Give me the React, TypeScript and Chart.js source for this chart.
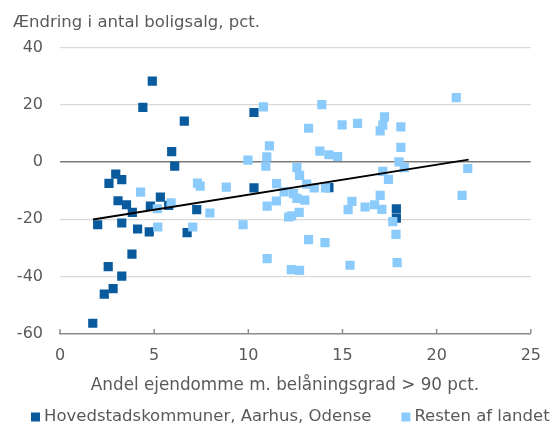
import React, { useEffect, useRef } from "react";
import { Chart, registerables } from "chart.js";

Chart.register(...registerables);

const titleText = "Ændring i antal boligsalg, pct.";
const xTitleText = "Andel ejendomme m. belåningsgrad > 90 pct.";
const seriesNames = ["Hovedstadskommuner, Aarhus, Odense", "Resten af landet"];
const seriesColors = ["#0a5b9d", "#8acbfc"];

const capitalX = [4.9, 4.4, 6.6, 10.3, 5.93, 6.09, 2.96, 2.6, 3.28, 3.08, 3.53, 3.84, 5.33, 4.8, 5.77, 7.26, 2.0, 3.28, 4.12, 4.74, 6.75, 3.82, 2.56, 3.28, 2.82, 2.35, 1.74, 10.3, 14.28, 17.86, 17.86];
const capitalY = [28.4, 19.2, 14.4, 17.4, 3.7, -1.4, -4.2, -7.4, -6.1, -13.5, -14.9, -17.6, -12.2, -15.4, -15.1, -16.6, -21.9, -21.3, -23.4, -24.4, -24.7, -32.2, -36.6, -39.9, -44.3, -46.2, -56.4, -9.0, -8.9, -16.3, -19.6];

const restX = [10.8, 13.9, 13.2, 14.98, 15.8, 11.12, 13.8, 14.28, 14.74, 9.98, 10.98, 10.93, 12.58, 12.72, 7.3, 7.44, 8.83, 11.5, 13.1, 13.5, 14.1, 11.9, 12.4, 11.49, 13.0, 15.5, 4.28, 5.9, 5.17, 5.19, 7.05, 7.96, 11.0, 12.58, 12.14, 12.3, 12.7, 9.72, 13.2, 14.07, 11.0, 12.28, 12.72, 15.4, 15.3, 16.2, 16.7, 17.09, 21.04, 17.23, 17.14, 17.0, 18.1, 18.1, 18.0, 18.28, 17.14, 17.44, 17.0, 21.65, 21.35, 17.84, 17.9, 17.67];
const restY = [19.4, 20.2, 11.9, 13.1, 13.6, 5.7, 3.9, 2.6, 2.0, 0.7, 1.9, -1.4, -1.9, -4.6, -7.3, -8.4, -8.7, -7.5, -7.7, -9.0, -9.0, -10.4, -11.0, -13.6, -13.3, -13.7, -10.5, -14.2, -16.3, -22.7, -22.7, -17.8, -15.4, -12.7, -19.2, -18.8, -17.6, -21.9, -27.1, -28.2, -33.8, -37.6, -37.9, -36.1, -16.6, -15.7, -14.9, -16.5, 22.6, 15.9, 13.0, 11.0, 12.4, 5.2, 0.1, -1.9, -3.2, -6.0, -11.6, -2.2, -11.6, -25.3, -35.2, -20.8];

const trendX = [1.75, 21.7];
const trendY = [-20.1, 0.9];

const xTicks = { min: 0, max: 25, step: 5 };
const yTicks = { min: -60, max: 40, step: 20 };

const FONT = "'DejaVu Sans', sans-serif";
const TEXT = "#595959";

const zip = (xs: number[], ys: number[]) => xs.map((x, i) => ({ x, y: ys[i] }));

const decorPlugin = {
  id: "decor",
  afterDraw(chart: any) {
    const { ctx, chartArea } = chart;
    const xs = chart.scales.x;
    ctx.save();
    // inward tick marks on x axis
    ctx.strokeStyle = "#8c8c8c";
    ctx.lineWidth = 1.5;
    xs.ticks.forEach((t: any) => {
      const px = xs.getPixelForValue(t.value);
      ctx.beginPath();
      ctx.moveTo(px, chartArea.bottom - 4.5);
      ctx.lineTo(px, chartArea.bottom);
      ctx.stroke();
    });
    // title
    ctx.fillStyle = TEXT;
    ctx.textBaseline = "alphabetic";
    ctx.textAlign = "left";
    ctx.font = `16.5px ${FONT}`;
    ctx.fillText(titleText, 13, 27);
    // x title
    ctx.font = `16.8px ${FONT}`;
    ctx.textAlign = "center";
    ctx.fillText(xTitleText, 285, 390);
    // legend
    ctx.font = `16.5px ${FONT}`;
    ctx.textAlign = "left";
    ctx.textBaseline = "middle";
    const ly = 417;
    let lx = 31;
    const box = 9;
    chart.data.datasets.forEach((ds: any) => {
      if (!ds.inLegend) return;
      ctx.fillStyle = ds.backgroundColor;
      ctx.fillRect(lx, ly - box / 2, box, box);
      ctx.fillStyle = TEXT;
      const tx = lx + box + 4;
      ctx.fillText(ds.label, tx, ly);
      lx = tx + ctx.measureText(ds.label).width + 30;
    });
    ctx.restore();
  },
};

export default function App() {
  const ref = useRef<HTMLCanvasElement>(null);
  useEffect(() => {
    if (!ref.current) return;
    const chart = new Chart(ref.current, {
      type: "scatter",
      data: {
        datasets: [
          {
            label: seriesNames[0],
            data: zip(capitalX, capitalY),
            backgroundColor: seriesColors[0],
            borderWidth: 0,
            pointStyle: "rect",
            pointRadius: 6.5,
            order: 2,
            inLegend: true,
          } as any,
          {
            label: seriesNames[1],
            data: zip(restX, restY),
            backgroundColor: seriesColors[1],
            borderWidth: 0,
            pointStyle: "rect",
            pointRadius: 6.5,
            order: 1,
            inLegend: true,
          } as any,
          {
            type: "line",
            label: "Trend",
            data: zip(trendX, trendY),
            borderColor: "#000000",
            borderWidth: 2,
            pointRadius: 0,
            showLine: true,
            fill: false,
            order: 0,
          } as any,
        ],
      },
      options: {
        animation: false,
        responsive: false,
        devicePixelRatio: 1,
        layout: { padding: { left: 0, right: 18, top: 48, bottom: 47.3 } },
        plugins: {
          legend: { display: false },
          title: { display: false },
          tooltip: { enabled: false },
        },
        scales: {
          x: {
            type: "linear",
            min: xTicks.min,
            max: xTicks.max,
            ticks: {
              stepSize: xTicks.step,
              padding: 13,
              color: TEXT,
              font: { family: FONT, size: 16 },
            },
            grid: { display: true, drawOnChartArea: false, drawTicks: false },
            border: { display: true, color: "#8c8c8c", width: 1.5 },
          },
          y: {
            type: "linear",
            min: yTicks.min,
            max: yTicks.max,
            afterFit: (s: any) => {
              s.width = 60;
            },
            ticks: {
              stepSize: yTicks.step,
              padding: 17,
              color: TEXT,
              font: { family: FONT, size: 16 },
            },
            grid: {
              drawTicks: false,
              color: (c: any) =>
                c.tick.value === 0 ? "#7a7a7a" : c.tick.value === yTicks.min ? "rgba(0,0,0,0)" : "#d9d9d9",
              lineWidth: (c: any) => (c.tick.value === 0 ? 1.6 : 1.3),
            },
            border: { display: false },
          },
        },
      },
      plugins: [decorPlugin],
    });
    return () => chart.destroy();
  }, []);
  return (
    <div style={{ position: "absolute", left: 0, top: 0, width: 554, height: 426 }}>
      <canvas ref={ref} width={554} height={426} style={{ display: "block", width: 554, height: 426 }} />
    </div>
  );
}
